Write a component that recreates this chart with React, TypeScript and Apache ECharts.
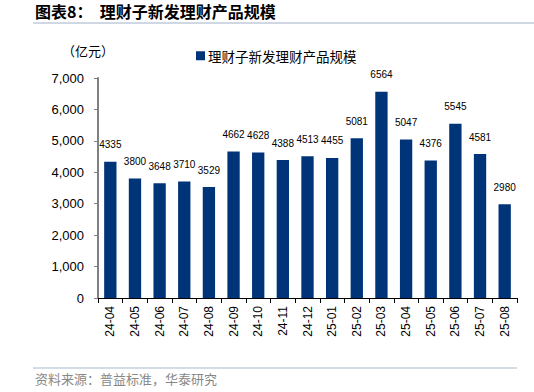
import React, { useEffect, useRef } from "react";
import * as echarts from "echarts";

const categories = ["24-04","24-05","24-06","24-07","24-08","24-09","24-10","24-11","24-12","25-01","25-02","25-03","25-04","25-05","25-06","25-07","25-08"];
const values = [4335,3800,3648,3710,3529,4662,4628,4388,4513,4455,5081,6564,5047,4376,5545,4581,2980];
const seriesName = "理财子新发理财产品规模";
const titleText = "图表8：  理财子新发理财产品规模";
const sourceText = "资料来源：普益标准，华泰研究";
const unitText = "（亿元）";

export default function App() {
  const ref = useRef<HTMLDivElement>(null);
  useEffect(() => {
    const chart = echarts.init(ref.current!, null, { renderer: "svg" });
    const cjk = "'Noto Sans CJK SC', sans-serif";
    chart.setOption({
      animation: false,
      backgroundColor: "#fff",
      graphic: [
        { type: "text", left: 35, top: 3, style: { text: titleText, font: `bold 16px ${cjk}`, fill: "#000" } },
        { type: "line", shape: { x1: 33, y1: 23, x2: 534, y2: 23 }, style: { stroke: "#9fb0c8", lineWidth: 1 } },
        { type: "text", left: 62, top: 44, style: { text: unitText, font: `13px ${cjk}`, fill: "#000" } },
        { type: "line", shape: { x1: 33, y1: 368, x2: 517, y2: 368 }, style: { stroke: "#c5d2e0", lineWidth: 1.5 } },
        { type: "text", left: 35, top: 372, style: { text: sourceText, font: `13px ${cjk}`, fill: "#888" } },
      ],
      legend: {
        left: 191, top: 44, itemWidth: 9, itemHeight: 9, icon: "rect", itemGap: 2,
        textStyle: { fontFamily: cjk, fontSize: 13.5, color: "#000", padding: [0, 0, 0, -2] },
        data: [seriesName],
      },
      grid: { left: 98, right: 17, top: 78, bottom: 94, containLabel: false },
      xAxis: {
        type: "category", data: categories,
        axisLine: { lineStyle: { color: "#000", width: 1 } },
        axisTick: { show: true, alignWithLabel: false, length: 5, lineStyle: { color: "#000" } },
        axisLabel: { rotate: 90, fontSize: 12, color: "#000", fontFamily: "Liberation Sans, Arial", margin: 8, interval: 0 },
      },
      yAxis: {
        type: "value", min: 0, max: 7000, interval: 1000,
        axisLine: { show: true, lineStyle: { color: "#808080", width: 2 } },
        axisTick: { show: true, inside: false, length: 4, lineStyle: { color: "#808080" } },
        splitLine: { show: false },
        axisLabel: {
          fontSize: 13, color: "#000", fontFamily: "Liberation Sans, Arial", margin: 14,
          formatter: (v: number) => v.toLocaleString("en-US"),
        },
      },
      series: [{
        name: seriesName, type: "bar", data: values, barWidth: "50%",
        itemStyle: { color: "#003478" },
        label: { show: true, position: "top", fontSize: 10, color: "#000", fontFamily: "Liberation Sans, Arial", distance: 12 },
      }],
    });
    return () => chart.dispose();
  }, []);
  return <div ref={ref} style={{ width: 534, height: 392, position: "absolute", left: 0, top: 0 }} />;
}
